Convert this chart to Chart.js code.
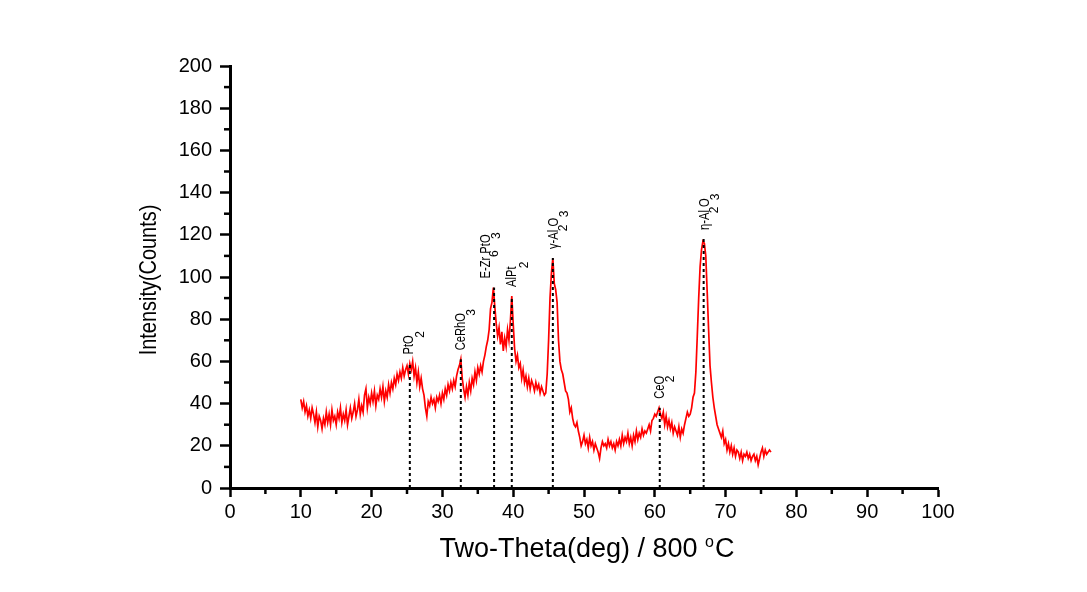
<!DOCTYPE html>
<html lang="en">
<head>
  <meta charset="UTF-8">
  <title>XRD pattern - 800 °C</title>
  <script src="https://cdn.jsdelivr.net/npm/chart.js"></script>
  <style>
    body { margin: 0; background: #fff; }
    canvas { display: block; }
  </style>
</head>
<body>
<canvas id="xrdChart" width="1087" height="592"></canvas>

<script>
  // scan grid (degrees two-theta)
  const thetaStart = 10.0;
  const thetaStep = 0.2;

  // intensity, one row per degree (10 .. 76.4)
  const intensity = [
    42,38,41,36,39,  34,37,33,38,35,  31,36,29,34,32,  28,33,30,36,31,
    35,30,37,32,34,  30,36,33,38,31,  35,32,37,30,34,  38,33,36,40,34,
    37,42,35,39,36,  44,47,38,43,40,  45,41,46,39,44,  42,47,43,48,41,
    46,43,49,45,50,  47,52,49,54,51,  55,52,57,53,56,  58,54,59,56,60,
    53,57,50,55,48,  52,47,44,38,34,  41,39,43,40,42,  38,43,41,44,40,
    45,42,47,44,49,  46,50,47,51,48,  53,56,58,61,52,  47,43,48,44,50,
    46,52,49,55,51,  57,54,58,55,60,  63,67,70,75,85,  88,95,86,78,72,
    76,68,74,65,71,  67,75,70,79,91,  78,66,60,63,57,  59,52,56,50,53,
    48,52,47,51,49,  46,50,47,49,45,  48,46,44,45,54,  70,90,102,109,97,
    94,88,70,60,56,  54,50,46,45,42,  36,38,33,30,29,  31,27,24,20,22,
    25,21,23,19,24,  20,22,18,21,19,  17,14,19,22,20,  21,19,23,20,22,
    19,21,18,22,20,  23,20,25,21,24,  22,26,21,24,20,  25,22,27,23,26,
    24,28,25,27,26,  28,30,27,32,33,  35,34,36,38,35,  33,36,30,34,29,
    32,28,31,26,29,  27,25,29,24,28,  26,30,33,36,34,  35,38,43,45,55,
    72,90,105,113,117, 116,110,93,75,58, 50,43,38,34,30,  28,26,24,27,21,
    23,18,21,17,20,  16,19,15,18,17,  14,17,13,16,15,  17,14,16,13,15,
    16,13,15,11,14,  17,19,15,18,16,  17,18,17
  ];

  // phase markers
  const peakNames = ['PtO', 'CeRhO', 'E-Zr PtO', 'AlPt', 'γ-Al O', 'CeO', 'η-Al O'];
  const peakSubs = [['2'], ['3'], ['6', '3'], ['2'], ['2', '3'], ['2'], ['2', '3']];
  const peakTheta = [25.4, 32.6, 37.3, 39.8, 45.6, 60.7, 66.9];
  const peakTop = [59, 61, 95, 91, 109, 38, 118];

  // where the little subscripts sit (along the text, sideways) - layout only
  const subAlong = [[20], [38], [25, 43], [22], [21, 35], [20], [20, 33]];
  const subDx = [[11], [11], [1, 3], [13], [11, 12], [11], [11, 12]];
  const labelDx = [-1, 0, -8, 0, 1, 0, 1];

  const FONT = 'Liberation Sans, Arial, sans-serif';

  const scanPoints = intensity.map((v, i) => ({ x: thetaStart + i * thetaStep, y: v }));

  const markerSets = peakTheta.map((t, i) => ({
    label: peakNames[i],
    data: [{ x: t, y: 0 }, { x: t, y: peakTop[i] }],
    borderColor: '#000',
    borderWidth: 2,
    borderDash: [3, 3],
    pointRadius: 0,
    order: 0
  }));

  // minor ticks, axis titles and phase labels
  const extras = {
    id: 'extras',
    afterDraw(chart) {
      const ctx = chart.ctx;
      const xs = chart.scales.x;
      const ys = chart.scales.y;
      const area = chart.chartArea;

      ctx.save();
      ctx.strokeStyle = '#000';
      ctx.lineWidth = 2.5;
      for (let v = 10; v < 200; v += 20) {
        const py = ys.getPixelForValue(v);
        ctx.beginPath();
        ctx.moveTo(area.left, py);
        ctx.lineTo(area.left - 6, py);
        ctx.stroke();
      }
      for (let v = 5; v < 100; v += 10) {
        const px = xs.getPixelForValue(v);
        ctx.beginPath();
        ctx.moveTo(px, area.bottom);
        ctx.lineTo(px, area.bottom + 6);
        ctx.stroke();
      }

      ctx.fillStyle = '#000';

      // y title (narrow)
      ctx.save();
      ctx.translate(149, 280);
      ctx.rotate(-Math.PI / 2);
      ctx.scale(0.83, 1);
      ctx.font = '24px ' + FONT;
      ctx.textAlign = 'center';
      ctx.textBaseline = 'middle';
      ctx.fillText('Intensity(Counts)', 0, 0);
      ctx.restore();

      // x title with raised "o"
      ctx.font = '27px ' + FONT;
      const part1 = 'Two-Theta(deg) / 800 ';
      const w1 = ctx.measureText(part1).width;
      const wC = ctx.measureText('C').width;
      ctx.font = '16px ' + FONT;
      const wo = ctx.measureText('o').width + 1;
      const total = w1 + wo + wC;
      const tx = 587 - total / 2;
      const base = 557;
      ctx.textAlign = 'left';
      ctx.textBaseline = 'alphabetic';
      ctx.font = '27px ' + FONT;
      ctx.fillText(part1, tx, base);
      ctx.font = '16px ' + FONT;
      ctx.fillText('o', tx + w1, base - 10);
      ctx.font = '27px ' + FONT;
      ctx.fillText('C', tx + w1 + wo, base);

      // phase labels above the markers
      peakNames.forEach((name, i) => {
        const px = xs.getPixelForValue(peakTheta[i]);
        const y0 = ys.getPixelForValue(peakTop[i]) - 9;
        ctx.save();
        ctx.translate(px + labelDx[i], y0);
        ctx.rotate(-Math.PI / 2);
        ctx.scale(0.8, 1);
        ctx.font = '14px ' + FONT;
        ctx.textAlign = 'left';
        ctx.textBaseline = 'middle';
        ctx.fillText(name, 0, 0);
        ctx.restore();

        peakSubs[i].forEach((s, j) => {
          ctx.save();
          ctx.translate(px + subDx[i][j], y0 - subAlong[i][j]);
          ctx.rotate(-Math.PI / 2);
          ctx.font = '12px ' + FONT;
          ctx.textAlign = 'center';
          ctx.textBaseline = 'middle';
          ctx.fillText(s, 0, 0);
          ctx.restore();
        });
      });
      ctx.restore();
    }
  };

  new Chart(document.getElementById('xrdChart').getContext('2d'), {
    type: 'line',
    data: {
      datasets: [
        ...markerSets,
        {
          label: 'Intensity',
          data: scanPoints,
          borderColor: '#ff0000',
          borderWidth: 1.7,
          pointRadius: 0,
          tension: 0,
          order: 1
        }
      ]
    },
    options: {
      responsive: false,
      animation: false,
      layout: { padding: { left: 0, top: 66, right: 149, bottom: 0 } },
      plugins: {
        legend: { display: false },
        tooltip: { enabled: false }
      },
      scales: {
        x: {
          type: 'linear',
          min: 0,
          max: 100,
          afterFit(scale) { scale.height = 104; },
          ticks: {
            stepSize: 10,
            padding: 3,
            color: '#000',
            font: { family: FONT, size: 20 }
          },
          grid: {
            drawOnChartArea: false,
            drawTicks: true,
            tickLength: 9,
            tickWidth: 2.5,
            tickColor: '#000'
          },
          border: { display: true, color: '#000', width: 3 }
        },
        y: {
          min: 0,
          max: 200,
          afterFit(scale) { scale.width = 230; },
          ticks: {
            stepSize: 20,
            padding: 8,
            color: '#000',
            font: { family: FONT, size: 20 }
          },
          grid: {
            drawOnChartArea: false,
            drawTicks: true,
            tickLength: 10,
            tickWidth: 2.5,
            tickColor: '#000'
          },
          border: { display: true, color: '#000', width: 3 }
        }
      }
    },
    plugins: [extras]
  });
</script>
</body>
</html>
